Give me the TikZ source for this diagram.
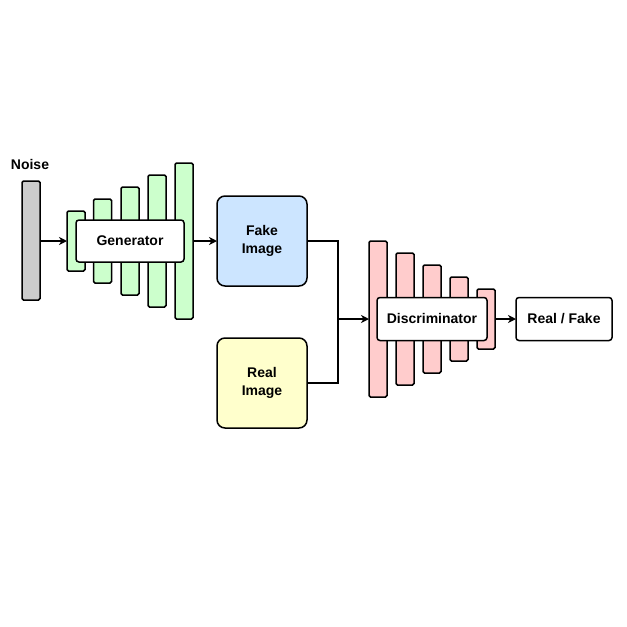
\documentclass[tikz,border=0pt]{standalone}
\usepackage{fontspec}
\setmainfont{Liberation Sans}
\usetikzlibrary{arrows.meta}
\begin{document}
\begin{tikzpicture}[x=1pt,y=-1pt,
  every node/.style={font=\bfseries\fontsize{14}{18}\selectfont, inner sep=0pt, outer sep=0pt, align=center},
  bar/.style={draw=black, line width=1.5pt, rounded corners=1.5pt, minimum width=18pt},
  box/.style={draw=black, fill=white, line width=1.5pt, rounded corners=3pt},
  imgbox/.style={draw=black, line width=1.5pt, rounded corners=8pt, minimum width=90pt, minimum height=90pt},
  conn/.style={line width=1.5pt},
  arr/.style={conn, -{Stealth[length=8pt,width=8pt,inset=2.5pt]}}
]
\useasboundingbox (0,0) rectangle (627,627);
\definecolor{gfill}{HTML}{CCFFCC}
\definecolor{rfill}{HTML}{FFCCCC}
\definecolor{bfill}{HTML}{CCE5FF}
\definecolor{yfill}{HTML}{FFFFCC}
\definecolor{nfill}{HTML}{CCCCCC}

\node (noiselabel) at (30,164) {Noise};
\node[bar, fill=nfill, minimum height=119pt] (noise) at (31,240.5) {};

\node[bar, fill=gfill, minimum height=60pt] (g1) at (76,241) {};
\node[bar, fill=gfill, minimum height=84pt] (g2) at (102.5,241) {};
\node[bar, fill=gfill, minimum height=108pt] (g3) at (130,241) {};
\node[bar, fill=gfill, minimum height=132pt] (g4) at (157,241) {};
\node[bar, fill=gfill, minimum height=156pt] (g5) at (184,241) {};
\node[box, minimum width=108pt, minimum height=42pt, text depth=1pt] (gen) at (130,241) {Generator};

\node[imgbox, fill=bfill] (fake) at (262,241) {Fake\\Image};
\node[imgbox, fill=yfill] (real) at (262,383) {Real\\Image};

\node[bar, fill=rfill, minimum height=156pt] (r1) at (378,319) {};
\node[bar, fill=rfill, minimum height=132pt] (r2) at (405,319) {};
\node[bar, fill=rfill, minimum height=108pt] (r3) at (432,319) {};
\node[bar, fill=rfill, minimum height=84pt] (r4) at (459,319) {};
\node[bar, fill=rfill, minimum height=60pt] (r5) at (486,319) {};
\node[box, minimum width=110pt, minimum height=43pt, text depth=1pt] (disc) at (432,319) {Discriminator};

\node[box, minimum width=96pt, minimum height=43pt, text depth=1pt] (rf) at (564,319) {Real / Fake};

\coordinate (j) at (338,319);

\draw[arr] (noise.east |- g1.west) -- (g1.west);
\draw[arr] (g5.east |- fake.west) -- (fake.west);
\draw[conn] (fake.east) -| (j);
\draw[conn] (real.east) -| (j);
\draw[arr] (j) -- (r1.west);
\draw[arr] (r5.east) -- (rf.west);
\end{tikzpicture}
\end{document}
